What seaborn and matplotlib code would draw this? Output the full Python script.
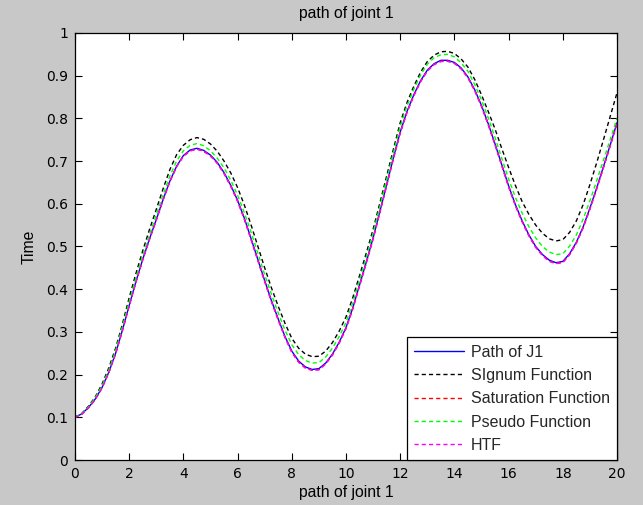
import matplotlib
matplotlib.use("Agg")
import matplotlib.pyplot as plt
import seaborn as sns

# Sample positions along the path
x_vals = [0.00, 0.25, 0.50, 0.75, 1.00, 1.25, 1.50, 1.75, 2.00, 2.25,
          2.50, 2.75, 3.00, 3.25, 3.50, 3.75, 4.00, 4.25, 4.50, 4.75,
          5.00, 5.25, 5.50, 5.75, 6.00, 6.25, 6.50, 6.75, 7.00, 7.25,
          7.50, 7.75, 8.00, 8.25, 8.50, 8.75, 9.00, 9.25, 9.50, 9.75,
          10.00, 10.25, 10.50, 10.75, 11.00, 11.25, 11.50, 11.75, 12.00, 12.25,
          12.50, 12.75, 13.00, 13.25, 13.50, 13.75, 14.00, 14.25, 14.50, 14.75,
          15.00, 15.25, 15.50, 15.75, 16.00, 16.25, 16.50, 16.75, 17.00, 17.25,
          17.50, 17.75, 18.00, 18.25, 18.50, 18.75, 19.00, 19.25, 19.50, 19.75,
          20.00]

path_j1 = [0.100, 0.108, 0.123, 0.143, 0.170, 0.206, 0.250, 0.304, 0.362, 0.418,
           0.470, 0.518, 0.563, 0.610, 0.653, 0.688, 0.713, 0.726, 0.730, 0.725,
           0.714, 0.697, 0.673, 0.643, 0.608, 0.566, 0.518, 0.469, 0.420, 0.373,
           0.330, 0.289, 0.255, 0.232, 0.218, 0.212, 0.214, 0.227, 0.248, 0.276,
           0.310, 0.356, 0.410, 0.464, 0.520, 0.582, 0.645, 0.708, 0.768, 0.816,
           0.855, 0.888, 0.913, 0.928, 0.936, 0.936, 0.931, 0.918, 0.897, 0.867,
           0.830, 0.787, 0.740, 0.691, 0.642, 0.598, 0.560, 0.527, 0.500, 0.481,
           0.468, 0.462, 0.465, 0.483, 0.510, 0.546, 0.590, 0.637, 0.687, 0.738,
           0.790]

signum = [0.100, 0.109, 0.126, 0.148, 0.178, 0.216, 0.262, 0.318, 0.380, 0.437,
          0.490, 0.540, 0.587, 0.635, 0.680, 0.715, 0.737, 0.750, 0.755, 0.751,
          0.740, 0.723, 0.700, 0.672, 0.638, 0.597, 0.550, 0.500, 0.450, 0.403,
          0.360, 0.320, 0.285, 0.262, 0.248, 0.242, 0.243, 0.255, 0.275, 0.302,
          0.335, 0.380, 0.432, 0.485, 0.540, 0.602, 0.665, 0.728, 0.790, 0.837,
          0.875, 0.908, 0.933, 0.948, 0.956, 0.957, 0.952, 0.939, 0.920, 0.891,
          0.855, 0.816, 0.775, 0.729, 0.685, 0.643, 0.605, 0.575, 0.550, 0.531,
          0.518, 0.513, 0.516, 0.533, 0.560, 0.598, 0.645, 0.696, 0.750, 0.805,
          0.860]

saturation = [0.100, 0.107, 0.122, 0.142, 0.169, 0.205, 0.249, 0.303, 0.361, 0.417,
              0.469, 0.517, 0.562, 0.609, 0.652, 0.687, 0.712, 0.724, 0.728, 0.723,
              0.712, 0.695, 0.671, 0.641, 0.606, 0.564, 0.516, 0.467, 0.418, 0.371,
              0.328, 0.287, 0.253, 0.230, 0.216, 0.210, 0.212, 0.225, 0.246, 0.274,
              0.308, 0.354, 0.408, 0.462, 0.518, 0.580, 0.643, 0.706, 0.766, 0.814,
              0.853, 0.886, 0.911, 0.926, 0.934, 0.934, 0.929, 0.916, 0.895, 0.865,
              0.828, 0.785, 0.738, 0.689, 0.640, 0.596, 0.558, 0.525, 0.498, 0.479,
              0.466, 0.460, 0.463, 0.481, 0.508, 0.544, 0.588, 0.635, 0.685, 0.736,
              0.788]

pseudo = [0.100, 0.108, 0.124, 0.146, 0.174, 0.211, 0.256, 0.312, 0.371, 0.427,
          0.479, 0.528, 0.574, 0.621, 0.665, 0.700, 0.724, 0.737, 0.741, 0.736,
          0.724, 0.707, 0.684, 0.655, 0.620, 0.579, 0.533, 0.484, 0.434, 0.388,
          0.344, 0.304, 0.270, 0.247, 0.233, 0.227, 0.228, 0.241, 0.262, 0.289,
          0.322, 0.368, 0.422, 0.476, 0.532, 0.594, 0.657, 0.720, 0.781, 0.829,
          0.868, 0.901, 0.927, 0.942, 0.949, 0.950, 0.944, 0.930, 0.910, 0.879,
          0.843, 0.801, 0.755, 0.706, 0.658, 0.615, 0.578, 0.546, 0.520, 0.500,
          0.487, 0.481, 0.483, 0.501, 0.527, 0.564, 0.607, 0.654, 0.702, 0.751,
          0.800]

htf = [0.100, 0.107, 0.122, 0.142, 0.169, 0.205, 0.249, 0.303, 0.361, 0.417,
       0.469, 0.517, 0.562, 0.609, 0.652, 0.687, 0.711, 0.724, 0.728, 0.723,
       0.712, 0.695, 0.671, 0.641, 0.606, 0.564, 0.516, 0.467, 0.418, 0.371,
       0.328, 0.287, 0.252, 0.229, 0.215, 0.210, 0.211, 0.225, 0.246, 0.274,
       0.308, 0.354, 0.408, 0.462, 0.518, 0.580, 0.643, 0.706, 0.766, 0.814,
       0.853, 0.886, 0.911, 0.926, 0.933, 0.934, 0.929, 0.916, 0.895, 0.865,
       0.828, 0.785, 0.738, 0.689, 0.640, 0.596, 0.558, 0.525, 0.498, 0.479,
       0.465, 0.460, 0.462, 0.481, 0.508, 0.544, 0.588, 0.635, 0.685, 0.736,
       0.788]

series_names = ["Path of J1", "SIgnum Function", "Saturation Function",
                "Pseudo Function", "HTF"]
series_values = [path_j1, signum, saturation, pseudo, htf]
series_colors = ["#0000ff", "#000000", "#ff0000", "#00ff00", "#ff00ff"]
series_dashed = [False, True, True, True, True]

x_ticks = [0, 2, 4, 6, 8, 10, 12, 14, 16, 18, 20]
y_ticks = [0, 0.1, 0.2, 0.3, 0.4, 0.5, 0.6, 0.7, 0.8, 0.9, 1]
y_tick_labels = ["0", "0.1", "0.2", "0.3", "0.4", "0.5", "0.6", "0.7", "0.8", "0.9", "1"]

sns.set_theme(style="ticks")
plt.rcParams["font.family"] = ["Liberation Sans", "DejaVu Sans"]

fig = plt.figure(figsize=(6.43, 5.05), dpi=100, facecolor="#c8c8c8")
ax = fig.add_axes([0.1166, 0.0891, 0.8430, 0.8456])
ax.set_facecolor("white")

for name, vals, col, dashed in zip(series_names, series_values, series_colors, series_dashed):
    sns.lineplot(x=x_vals, y=vals, color=col, linewidth=1.0, label=name, ax=ax)
    if dashed:
        ax.lines[-1].set_dashes((3, 2.2))

ax.set_xlim(0, 20)
ax.set_ylim(0, 1)
ax.set_xticks(x_ticks)
ax.set_xticklabels([str(t) for t in x_ticks])
ax.set_yticks(y_ticks)
ax.set_yticklabels(y_tick_labels)
ax.tick_params(direction="in", length=5, width=0.8, colors="black",
               labelsize=10, top=True, right=True, pad=5)
for lbl in ax.get_xticklabels() + ax.get_yticklabels():
    lbl.set_fontfamily(["DejaVu Sans"])
for side in ["left", "right", "top", "bottom"]:
    ax.spines[side].set_visible(True)
    ax.spines[side].set_color("black")
    ax.spines[side].set_linewidth(0.9)

ax.set_title("path of joint 1", fontsize=11.3, color="black", pad=11)
ax.set_xlabel("path of joint 1", fontsize=11.3, color="black", labelpad=3)
ax.set_ylabel("Time", fontsize=11.3, color="black", labelpad=7)

leg = ax.legend(loc="lower right", borderaxespad=0, fontsize=11.5,
                handlelength=3.15, handletextpad=0.4, labelspacing=0.52,
                borderpad=0.45, fancybox=False, framealpha=1, edgecolor="black")
leg.get_frame().set_linewidth(0.9)

fig.savefig("out.png", dpi=100, facecolor=fig.get_facecolor())
